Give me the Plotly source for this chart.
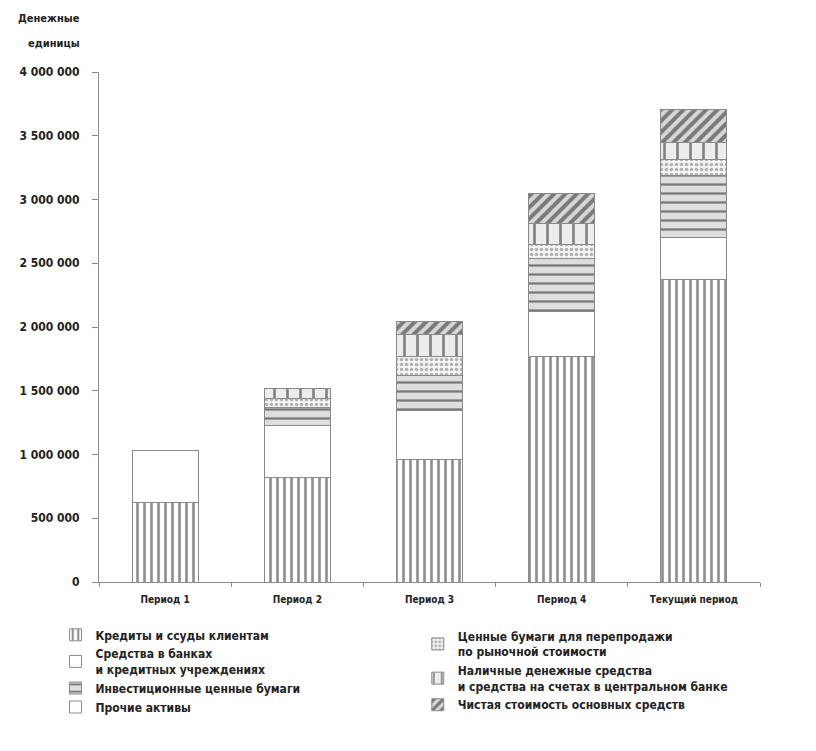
import plotly.graph_objects as go

# Periods on the x axis
periods = ["Период 1", "Период 2", "Период 3", "Период 4", "Текущий период"]

# Asset structure by period, monetary units
loans = [622000, 820000, 960000, 1770000, 2370000]
bank_funds = [408000, 410000, 385000, 350000, 330000]
investment_sec = [0, 140000, 275000, 415000, 490000]
other_assets = [0, 0, 0, 0, 0]
trading_sec = [0, 70000, 150000, 110000, 125000]
cash_cb = [0, 80000, 175000, 170000, 130000]
fixed_assets = [0, 0, 95000, 235000, 260000]

# Y axis ticks
y_ticks = [0, 500000, 1000000, 1500000, 2000000, 2500000, 3000000, 3500000, 4000000]
y_tick_text = ["0", "500 000", "1 000 000", "1 500 000", "2 000 000",
               "2 500 000", "3 000 000", "3 500 000", "4 000 000"]

FONT = "DejaVu Sans Condensed, DejaVu Sans"
TXT = "#222222"
EDGE = "#8a8a8a"

series = [
    ("Кредиты и ссуды клиентам", loans,
     dict(shape="|", fgcolor="#1e1e1e", bgcolor="#ffffff", size=7, solidity=0.38), "legend"),
    ("Средства в банках<br>и кредитных учреждениях", bank_funds,
     dict(shape="", bgcolor="#ffffff"), "legend"),
    ("Инвестиционные ценные бумаги", investment_sec,
     dict(shape="-", fgcolor="#111111", bgcolor="#dedede", size=9, solidity=0.25), "legend"),
    ("Прочие активы", other_assets,
     dict(shape="", bgcolor="#ffffff"), "legend"),
    ("Ценные бумаги для перепродажи<br>по рыночной стоимости", trading_sec,
     dict(shape=".", fgcolor="#6e6e6e", bgcolor="#f4f4f4", size=5, solidity=0.4), "legend2"),
    ("Наличные денежные средства<br>и средства на счетах в центральном банке", cash_cb,
     dict(shape="|", fgcolor="#111111", bgcolor="#ececec", size=13, solidity=0.2), "legend2"),
    ("Чистая стоимость основных средств", fixed_assets,
     dict(shape="/", fgcolor="#1a1a1a", bgcolor="#d8d8d8", size=8, solidity=0.5), "legend2"),
]

fig = go.Figure()
for name, vals, pat, leg in series:
    fig.add_trace(go.Bar(
        x=periods, y=vals, name=name, legend=leg,
        marker=dict(color="#ffffff", pattern=pat,
                    line=dict(color=EDGE, width=1)),
        showlegend=True,
    ))

legend_common = dict(
    orientation="v", traceorder="normal", xref="container", yref="container",
    xanchor="left", yanchor="top", bgcolor="rgba(0,0,0,0)",
    font=dict(family=FONT, size=12, color=TXT, weight="bold"),
    itemwidth=30, tracegroupgap=0,
)

fig.update_layout(
    width=816, height=751,
    margin=dict(l=99, r=56, t=72, b=169, autoexpand=False),
    paper_bgcolor="white", plot_bgcolor="white",
    barmode="stack", bargap=0.5,
    font=dict(family=FONT, size=10, color=TXT),
    legend=dict(x=0.068, y=0.174, **legend_common),
    legend2=dict(x=0.512, y=0.172, **legend_common),
    xaxis=dict(
        showline=True, linecolor=EDGE, linewidth=1,
        ticks="outside", tickson="boundaries", ticklen=4, tickcolor=EDGE,
        ticklabelstandoff=8,
        tickfont=dict(family=FONT, size=10, color=TXT, weight="bold"),
        tickangle=0, showgrid=False, zeroline=False,
    ),
    yaxis=dict(
        range=[0, 4000000], tickvals=y_ticks, ticktext=y_tick_text,
        showline=True, linecolor=EDGE, linewidth=1,
        ticks="outside", ticklen=6, tickcolor=EDGE,
        ticklabelstandoff=10,
        tickfont=dict(family=FONT, size=12, color=TXT, weight="bold"),
        showgrid=False, zeroline=False,
    ),
    annotations=[
        dict(text="Денежные", xref="paper", yref="paper", x=-0.026, y=1.104,
             xanchor="right", yanchor="middle", showarrow=False,
             font=dict(family=FONT, size=11, color=TXT, weight="bold")),
        dict(text="единицы", xref="paper", yref="paper", x=-0.026, y=1.055,
             xanchor="right", yanchor="middle", showarrow=False,
             font=dict(family=FONT, size=11, color=TXT, weight="bold")),
    ],
)

fig.write_html("out.html")
